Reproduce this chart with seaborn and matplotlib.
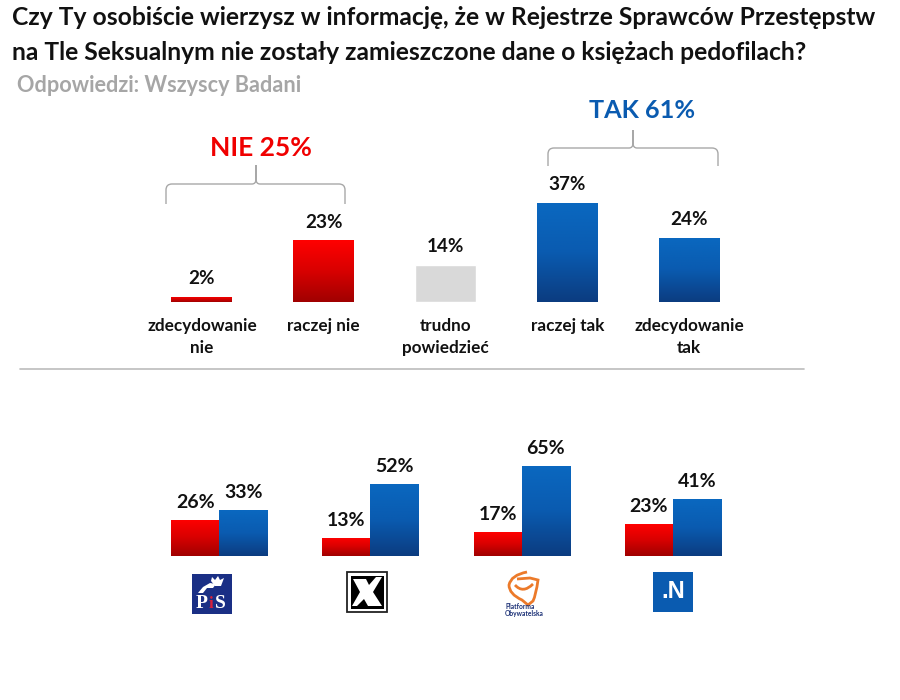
import numpy as np
import pandas as pd
import seaborn as sns
import matplotlib.pyplot as plt
from matplotlib.colors import LinearSegmentedColormap
from matplotlib.patches import PathPatch, Rectangle, Polygon
from matplotlib.path import Path

answers = ["zdecydowanie\nnie", "raczej nie", "trudno\npowiedzieć", "raczej tak", "zdecydowanie\ntak"]
answer_values = [2, 23, 14, 37, 24]
parties = ["PiS", "Kukiz", "PO", "N"]
party_nie = [26, 13, 17, 23]
party_tak = [33, 52, 65, 41]

title = ("Czy Ty osobiście wierzysz w informację, że w Rejestrze Sprawców Przestępstw\n"
         "na Tle Seksualnym nie zostały zamieszczone dane o księżach pedofilach?")
subtitle = "Odpowiedzi: Wszyscy Badani"

W, H = 900, 700
sns.set_theme(style="white")
plt.rcParams["font.family"] = ["Lato", "DejaVu Sans"]
plt.rcParams["font.weight"] = "bold"

reds = LinearSegmentedColormap.from_list("reds", ["#a00000", "#d80000", "#ff0000"])
blues = LinearSegmentedColormap.from_list("blues", ["#0c3c80", "#0a5bb0", "#0a68c0"])
RED, GREY, BLUE = "#e00000", "#d9d9d9", "#0a5bb0"


def px_axes(fig, left, top, right, bottom):
    return fig.add_axes([left / W, 1 - bottom / H, (right - left) / W, (bottom - top) / H])


def gradient_fill(ax, bar, cmap):
    # paint the bar with a vertical gradient, clipped to the bar itself
    grad = np.linspace(1, 0, 128).reshape(-1, 1)
    x0, y0 = bar.get_xy()
    im = ax.imshow(grad, cmap=cmap, aspect="auto", vmin=0, vmax=1, zorder=3,
                   extent=[x0, x0 + bar.get_width(), y0, y0 + bar.get_height()])
    im.set_clip_path(bar)


def brace(ax, x0, x1, xtip, ytop, ybar, ybot):
    r = 6
    verts = [(x0, ybot), (x0, ybar + r), (x0, ybar), (x0 + r, ybar),
             (xtip - 4, ybar), (xtip, ybar), (xtip, ybar - 5), (xtip, ytop),
             (xtip, ybar - 5), (xtip, ybar), (xtip + 4, ybar),
             (x1 - r, ybar), (x1, ybar), (x1, ybar + r), (x1, ybot)]
    codes = [Path.MOVETO, Path.LINETO, Path.CURVE3, Path.CURVE3,
             Path.LINETO, Path.CURVE3, Path.CURVE3, Path.LINETO,
             Path.LINETO, Path.CURVE3, Path.CURVE3,
             Path.LINETO, Path.CURVE3, Path.CURVE3, Path.LINETO]
    ax.add_patch(PathPatch(Path(verts, codes), fc="none", ec="#a8a8a8", lw=1.0))


def clean(ax):
    sns.despine(ax=ax, left=True, bottom=True, top=True, right=True)
    ax.set_xlabel("")
    ax.set_ylabel("")
    ax.set_yticks([])
    ax.patch.set_alpha(0)


fig = plt.figure(figsize=(W / 100, H / 100), dpi=100)

# top chart: all respondents
ax1 = px_axes(fig, 141, 195, 750, 302)
top_df = pd.DataFrame({"answer": answers, "value": answer_values})
sns.barplot(data=top_df, x="answer", y="value", hue="answer", width=0.5,
            palette=[RED, RED, GREY, BLUE, BLUE], legend=False, ax=ax1, saturation=1)
for cont, cmap in zip(ax1.containers, [reds, reds, None, blues, blues]):
    ax1.bar_label(cont, fmt="%d%%", padding=7, fontsize=13.6, color="#111111", zorder=5)
    if cmap is not None:
        for bar in cont:
            gradient_fill(ax1, bar, cmap)
ax1.set_xlim(-0.5, 4.5)
ax1.set_ylim(0, 40)
clean(ax1)
ax1.tick_params(axis="x", length=0, pad=11.3, labelsize=12.3, labelcolor="#111111")
plt.setp(ax1.get_xticklabels(), linespacing=1.45)

# bottom chart: party electorates
ax2 = px_axes(fig, 143.5, 459, 748.5, 556)
long_df = pd.DataFrame({
    "party": parties * 2,
    "answer": ["nie"] * len(parties) + ["tak"] * len(parties),
    "value": party_nie + party_tak,
})
sns.barplot(data=long_df, x="party", y="value", hue="answer", width=0.635, gap=0,
            palette=[RED, BLUE], legend=False, ax=ax2, saturation=1)
for cont, cmap in zip(ax2.containers, [reds, blues]):
    ax2.bar_label(cont, fmt="%d%%", padding=6.5, fontsize=14, color="#111111", zorder=5)
    for bar in cont:
        gradient_fill(ax2, bar, cmap)
ax2.set_xlim(-0.5, 3.5)
ax2.set_ylim(0, 70)
clean(ax2)
ax2.set_xticks([])

# overlay in pixel space for title, braces and logos
ov = fig.add_axes([0, 0, 1, 1], zorder=10)
ov.set_xlim(0, W)
ov.set_ylim(H, 0)
ov.axis("off")

ov.text(12, 6, title, fontsize=17.7, color="#111111", va="top", ha="left", linespacing=1.62)
ov.text(17, 86, subtitle, fontsize=15.6, color="#a6a6a6", va="center", ha="left")
ov.text(261, 148, "NIE 25%", fontsize=19, color="#f00000", ha="center", va="center")
ov.text(642, 110, "TAK 61%", fontsize=18.2, color="#0a5bb0", ha="center", va="center")
brace(ov, 166, 345, 256, 165, 184, 204)
brace(ov, 548, 718, 633, 130, 148, 166)
ov.plot([20, 804], [369, 369], color="#bcbcbc", lw=1.2)

# PiS
ov.add_patch(Rectangle((192, 574), 40, 40, fc="#1a2f85", ec="none"))
ov.text(202, 603, "P", color="white", fontsize=14, family="Liberation Serif", ha="center", va="center")
ov.text(211, 604, "i", color="#d8203a", fontsize=12, family="Liberation Serif", ha="center", va="center")
ov.text(220, 603, "S", color="white", fontsize=14, family="Liberation Serif", ha="center", va="center")
ov.add_patch(Polygon([(198, 593), (203, 587), (210, 583), (216, 584), (213, 588), (207, 588), (203, 593)],
                     fc="white", ec="none"))
ov.add_patch(Polygon([(211, 581), (212, 577), (215, 580), (218, 576), (220, 580), (224, 578), (221, 586), (215, 586)],
                     fc="white", ec="none"))

# Kukiz
ov.add_patch(Rectangle((347, 572), 40, 40, fc="white", ec="#222222", lw=1.3))
ov.add_patch(Rectangle((350.5, 575.5), 33, 33, fc="black", ec="none"))
ov.add_patch(Polygon([(353, 579), (366, 579), (369, 585), (376, 577), (382, 577), (373, 592),
                      (382, 606), (368, 606), (364, 599), (357, 606), (352, 606), (360, 592)],
                     fc="white", ec="none"))

# PO
ov.add_patch(PathPatch(Path([(527, 572), (511, 575), (509, 585), (509, 594), (522, 600), (528, 605), (533, 601),
                             (536, 595), (538, 580), (530, 578), (517, 579)],
                            [Path.MOVETO, Path.CURVE3, Path.CURVE3, Path.CURVE3, Path.CURVE3, Path.LINETO, Path.LINETO,
                             Path.CURVE3, Path.CURVE3, Path.LINETO, Path.LINETO]),
                       fc="none", ec="#ec7a2a", lw=2.0))
ov.add_patch(PathPatch(Path([(515, 585), (523, 594), (533, 584)], [Path.MOVETO, Path.CURVE3, Path.CURVE3]),
                       fc="none", ec="#ec7a2a", lw=2.0))
ov.text(505, 603, "Platforma\nObywatelska", fontsize=4.8, color="#1a2f75", ha="left", va="top", linespacing=0.95)

# Nowoczesna
ov.add_patch(Rectangle((653, 572), 40, 40, fc="#0a5bb0", ec="none"))
ov.text(673, 592, ".N", color="white", fontsize=17, family="Liberation Sans", ha="center", va="center")

fig.savefig("out.png", dpi=100)
